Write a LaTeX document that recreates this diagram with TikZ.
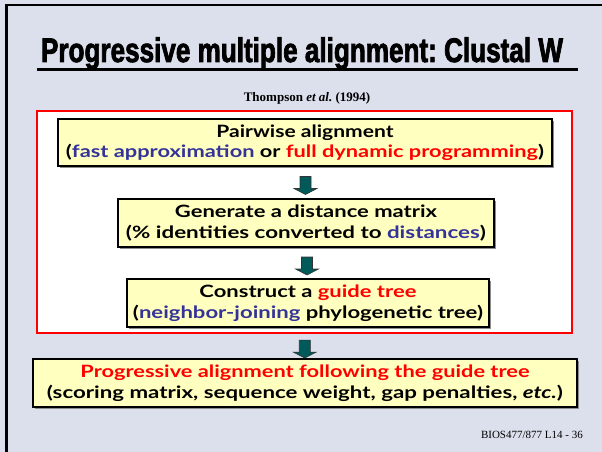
\documentclass[tikz,border=0pt]{standalone}
\usepackage{fontspec}
\setmainfont{Liberation Serif}
\newfontfamily\titlefont{Liberation Sans}
\newfontfamily\comic{Lato}
\usetikzlibrary{calc,shadows}
\frenchspacing
\definecolor{bg}{RGB}{220,223,236}
\definecolor{boxfill}{RGB}{255,255,192}
\definecolor{tblue}{RGB}{51,51,153}
\definecolor{tred}{RGB}{255,0,0}
\definecolor{arrowfill}{RGB}{0,90,90}
\newcommand{\fitw}[2]{\resizebox{#1}{\height}{#2}}
\newcommand{\heavytext}[1]{\special{pdf:literal direct 2 Tr 0.9 w}#1\special{pdf:literal direct 0 Tr}}
\tikzset{
  stepbox/.style={draw=black, line width=1.6pt, fill=boxfill, inner sep=0pt,
    align=center, font=\comic\bfseries\fontsize{17}{20.5}\selectfont,
    drop shadow={shadow xshift=2pt, shadow yshift=-2pt, fill=black!45, opacity=1}},
  blockarrow/.style={fill=arrowfill, draw=black!80, line width=0.6pt},
  redframe/.style={draw=tred, line width=1.8pt, fill=white, inner sep=0pt}
}
\begin{document}
\begin{tikzpicture}[x=1pt,y=-1pt]
\useasboundingbox (0,0) rectangle (602,452);
\fill[bg] (0,0) rectangle (602,452);
\draw[line width=2.4pt] (6.5,452) -- (6.5,4.8) -- (602,4.8);

\node[font=\titlefont\bfseries\fontsize{34}{34}\selectfont, anchor=base, inner sep=0pt] (title) at (302,62) {\fitw{522pt}{\heavytext{Progressive multiple alignment: Clustal W}}};
\coordinate (ulA) at (37,69.5);
\coordinate (ulB) at (578,69.5);
\draw[line width=2.5pt] (ulA) -- (ulB);

\node[font=\bfseries\fontsize{13}{13}\selectfont, anchor=base, inner sep=0pt] (cite) at (307,101) {Thompson \textit{et al.} (1994)};

\node[redframe, minimum width=535pt, minimum height=222pt] (frame) at (304.5,222) {};

\node[stepbox, minimum width=494pt, minimum height=47pt] (b1) at (305,142.5)
  {\fitw{177pt}{Pairwise alignment}\\
   \fitw{478pt}{(\textcolor{tblue}{fast approximation} or \textcolor{tred}{full dynamic programming})}};
\node[stepbox, minimum width=376pt, minimum height=48pt] (b2) at (306,223)
  {\fitw{262pt}{Generate a distance matrix}\\
   \fitw{360pt}{(\% identities converted to \textcolor{tblue}{distances})}};
\node[stepbox, minimum width=362pt, minimum height=48pt] (b3) at (308,303)
  {\fitw{217pt}{Construct a \textcolor{tred}{guide tree}}\\
   \fitw{350pt}{(\textcolor{tblue}{neighbor-joining} phylogenetic tree)}};
\node[stepbox, minimum width=544pt, minimum height=48pt] (b4) at (305,383)
  {\fitw{449pt}{\textcolor{tred}{Progressive alignment following the guide tree}}\\
   \fitw{516pt}{(scoring matrix, sequence weight, gap penalties, \textit{etc.})}};

\coordinate (a1) at ($(b1.south)!0.5!(b2.north)$);
\coordinate (a2) at ($(b2.south)!0.5!(b3.north)$);
\coordinate (a3) at ($(frame.south)!0.5!(b4.north)$);
\foreach \a in {a1,a2,a3}{
  \draw[blockarrow] ($(\a)+(-5.5,-6)$) -- ++(11,0) -- ++(0,12) -- ++(6,0)
     -- ++(-11.5,6) -- ++(-11.5,-6) -- ++(6,0) -- cycle;
}

\node[anchor=base east, font=\fontsize{11}{11}\selectfont, inner sep=0pt] (foot) at (583,438) {BIOS477/877 L14 - 36};
\end{tikzpicture}
\end{document}
